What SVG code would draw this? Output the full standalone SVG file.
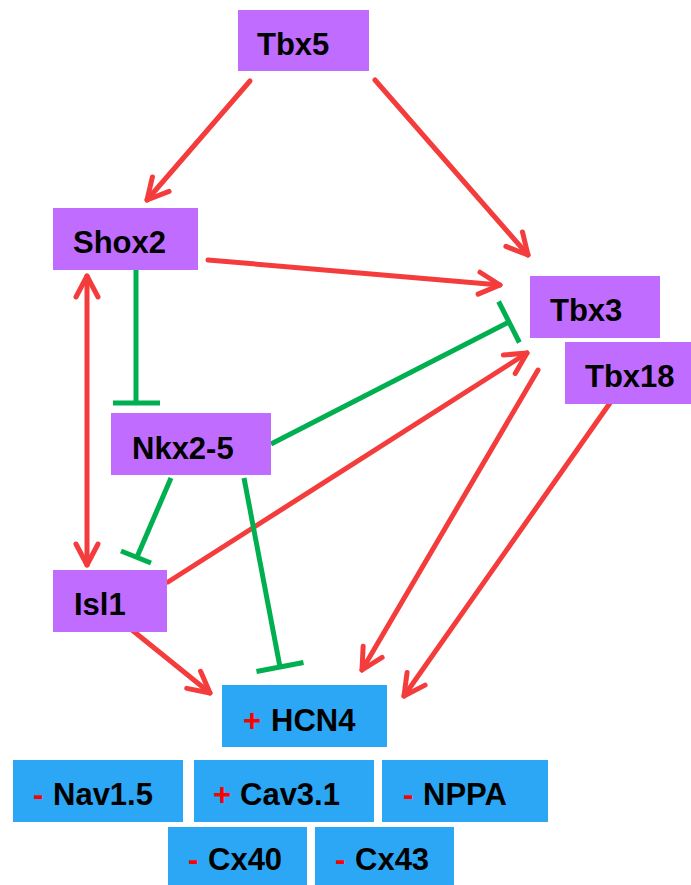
<svg xmlns="http://www.w3.org/2000/svg" width="691" height="885" viewBox="0 0 691 885">
<style>
.tf{fill:#C06CFF}
.gene{fill:#2CA7F5}
.lbl{font-family:"Liberation Sans",Arial,sans-serif;font-weight:bold;font-size:31px;fill:#000}
.sign{font-family:"Liberation Sans",Arial,sans-serif;font-weight:bold;font-size:31px;fill:#FF0000}
.act{stroke:#F43C3C;stroke-width:5;fill:none;stroke-linecap:round}
.inh{stroke:#00B050;stroke-width:5;fill:none;stroke-linecap:butt}
</style>
<defs>
<marker id="ah" markerUnits="userSpaceOnUse" markerWidth="40" markerHeight="40" viewBox="-30 -20 40 40" refX="0" refY="0" orient="auto-start-reverse" overflow="visible">
<path d="M-21,-11 L0,0 L-21,11" fill="none" stroke="#F43C3C" stroke-width="5" stroke-linecap="round" stroke-linejoin="round"/>
</marker>
</defs>
<rect width="691" height="885" fill="#FFFFFF"/>
<g id="connectors">
<line class="act" x1="250" y1="81" x2="147" y2="200" marker-end="url(#ah)"/>
<line class="act" x1="375" y1="80" x2="528" y2="255" marker-end="url(#ah)"/>
<line class="act" x1="208" y1="260" x2="500" y2="285" marker-end="url(#ah)"/>
<line class="act" x1="87" y1="276" x2="87" y2="565" marker-start="url(#ah)" marker-end="url(#ah)"/>
<line class="act" x1="168" y1="582" x2="527" y2="353" marker-end="url(#ah)"/>
<line class="act" x1="538" y1="370" x2="362" y2="670" marker-end="url(#ah)"/>
<line class="act" x1="610" y1="403" x2="404" y2="696" marker-end="url(#ah)"/>
<line class="act" x1="132" y1="630" x2="210" y2="693" marker-end="url(#ah)"/>
<line class="inh" x1="136" y1="270" x2="136" y2="403"/>
<line class="inh" x1="113" y1="403" x2="160" y2="403"/>
<line class="inh" x1="171" y1="478" x2="137" y2="557"/>
<line class="inh" x1="121" y1="551" x2="151" y2="563"/>
<line class="inh" x1="271" y1="444" x2="509" y2="322"/>
<line class="inh" x1="498.6" y1="301.5" x2="519.4" y2="342.5"/>
<line class="inh" x1="244" y1="478" x2="280" y2="667"/>
<line class="inh" x1="256.5" y1="671.5" x2="303.5" y2="662.5"/>
</g>
<g id="Tbx5"><rect class="tf" x="238" y="10" width="131" height="61"/><text class="lbl" x="257" y="55">Tbx5</text></g>
<g id="Shox2"><rect class="tf" x="53" y="208" width="145" height="62"/><text class="lbl" x="73" y="253">Shox2</text></g>
<g id="Tbx3"><rect class="tf" x="530" y="276" width="130" height="62"/><text class="lbl" x="550" y="321">Tbx3</text></g>
<g id="Tbx18"><rect class="tf" x="565" y="342" width="126" height="62"/><text class="lbl" x="585" y="387">Tbx18</text></g>
<g id="Nkx2-5"><rect class="tf" x="111" y="413" width="160" height="62"/><text class="lbl" x="132" y="459">Nkx2-5</text></g>
<g id="Isl1"><rect class="tf" x="53" y="570" width="114" height="62"/><text class="lbl" x="74" y="615">Isl1</text></g>
<g id="HCN4"><rect class="gene" x="222" y="685" width="165" height="62"/><text class="sign" x="243" y="731">+</text><text class="lbl" x="271" y="731">HCN4</text></g>
<g id="Nav1.5"><rect class="gene" x="13" y="760" width="170" height="62"/><text class="sign" x="33" y="805">-</text><text class="lbl" x="53" y="805">Nav1.5</text></g>
<g id="Cav3.1"><rect class="gene" x="194" y="760" width="180" height="62"/><text class="sign" x="213" y="805">+</text><text class="lbl" x="240" y="805">Cav3.1</text></g>
<g id="NPPA"><rect class="gene" x="382" y="760" width="166" height="62"/><text class="sign" x="403" y="805">-</text><text class="lbl" x="423" y="805">NPPA</text></g>
<g id="Cx40"><rect class="gene" x="168" y="827" width="139" height="58"/><text class="sign" x="188" y="870">-</text><text class="lbl" x="208" y="870">Cx40</text></g>
<g id="Cx43"><rect class="gene" x="315" y="827" width="139" height="58"/><text class="sign" x="335" y="870">-</text><text class="lbl" x="355" y="870">Cx43</text></g>
</svg>
